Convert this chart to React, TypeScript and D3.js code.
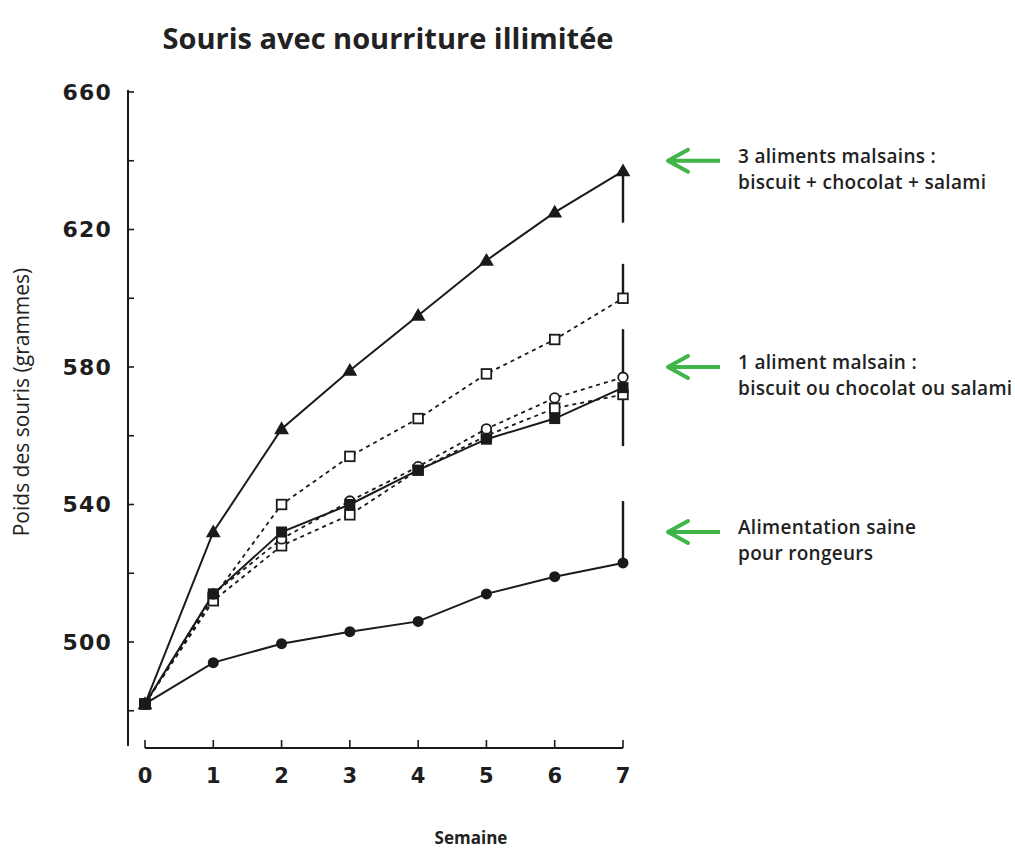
import React from "react";
import * as d3 from "d3";

const weeks = [0, 1, 2, 3, 4, 5, 6, 7];
const troisAliments = [482, 532, 562, 579, 595, 611, 625, 637];
const unAlimentHaut = [482, 513, 540, 554, 565, 578, 588, 600];
const unAlimentPlein = [482, 514, 532, 540, 550, 559, 565, 574];
const unAlimentRond = [482, 514, 530, 541, 551, 562, 571, 577];
const unAlimentBas = [482, 512, 528, 537, 550, 560, 568, 572];
const saine = [482, 494, 499.5, 503, 506, 514, 519, 523];

const errLow = [622, 600, 557, 523];
const errHigh = [637, 610, 591, 541];

const yTicks = [480, 500, 520, 540, 560, 580, 600, 620, 640, 660];
const yLabels = [500, 540, 580, 620, 660];

const annotLines = [
  ["3 aliments malsains :", "biscuit + chocolat + salami"],
  ["1 aliment malsain :", "biscuit ou chocolat ou salami"],
  ["Alimentation saine", "pour rongeurs"],
];
const annotValues = [640, 580, 532];

const title = "Souris avec nourriture illimitée";
const yTitle = "Poids des souris (grammes)";
const xTitle = "Semaine";

type Series = { values: number[]; dashed: boolean; marker: string };
const series: Series[] = [
  { values: saine, dashed: false, marker: "fcircle" },
  { values: troisAliments, dashed: false, marker: "triangle" },
  { values: unAlimentHaut, dashed: true, marker: "osquare" },
  { values: unAlimentBas, dashed: true, marker: "osquare" },
  { values: unAlimentRond, dashed: true, marker: "ocircle" },
  { values: unAlimentPlein, dashed: false, marker: "fsquare" },
];

export default function App() {
  const W = 1015, H = 852;
  const x = d3.scaleLinear().domain([0, 7]).range([145, 623]);
  const y = d3.scaleLinear().domain([480, 660]).range([710.75, 92]);
  const axisX = 128;
  const axisY = 748;
  const green = "#3fb54a";
  const ink = "#1a1a1a";
  const line = (vals: number[]) =>
    d3.line<number>().x((_, i) => x(weeks[i])).y((d) => y(d))(vals) || "";
  const tri = d3.symbol().type(d3.symbolTriangle).size(95)() || "";

  const marker = (m: string, cx: number, cy: number, k: string) => {
    if (m === "fcircle") return <circle key={k} cx={cx} cy={cy} r={5.5} fill={ink} />;
    if (m === "ocircle") return <circle key={k} cx={cx} cy={cy} r={4.8} fill="#fff" stroke={ink} strokeWidth={1.8} />;
    if (m === "fsquare") return <rect key={k} x={cx - 5.5} y={cy - 5.5} width={11} height={11} fill={ink} />;
    if (m === "osquare") return <rect key={k} x={cx - 4.8} y={cy - 4.8} width={9.6} height={9.6} fill="#fff" stroke={ink} strokeWidth={1.8} />;
    return <path key={k} d={tri} transform={`translate(${cx},${cy + 1})`} fill={ink} />;
  };

  return (
    <svg width={W} height={H} style={{ position: "absolute", left: 0, top: 0, background: "#fff" }}
      fontFamily="'Open Sans', sans-serif">
      <rect width={W} height={H} fill="#fff" />
      <text x={388} y={49} textAnchor="middle" fontSize={29} fontWeight={700} fill="#222">{title}</text>

      {/* y axis */}
      <line x1={axisX} x2={axisX} y1={y(660) - 2} y2={746} stroke={ink} strokeWidth={2} />
      {yTicks.map((t) => (
        <line key={t} x1={axisX} x2={axisX + 6} y1={y(t)} y2={y(t)} stroke={ink} strokeWidth={1.6} />
      ))}
      {yLabels.map((t) => (
        <text key={t} x={112} y={y(t)} dy="0.36em" textAnchor="end" fontFamily="'DejaVu Sans', sans-serif"
          fontWeight={700} fontSize={22} letterSpacing={1.2} fill="#1e1e1e">{t}</text>
      ))}
      <text transform={`translate(29,${402}) rotate(-90)`} textAnchor="middle" fontSize={21} fill="#222">{yTitle}</text>

      {/* x axis */}
      <line x1={x(0)} x2={x(7)} y1={axisY} y2={axisY} stroke={ink} strokeWidth={2} />
      {weeks.map((w) => (
        <g key={w}>
          <line x1={x(w)} x2={x(w)} y1={axisY} y2={axisY - 8} stroke={ink} strokeWidth={1.6} />
          <text x={x(w)} y={783} textAnchor="middle" fontFamily="'DejaVu Sans', sans-serif" fontWeight={700}
            fontSize={21} fill="#1e1e1e">{w}</text>
        </g>
      ))}
      <text x={471} y={844} textAnchor="middle" fontSize={17} fontWeight={700} fill="#222">{xTitle}</text>

      {/* error bars */}
      {errLow.map((lo, i) => (
        <line key={i} x1={x(7)} x2={x(7)} y1={y(lo)} y2={y(errHigh[i])} stroke={ink} strokeWidth={2.4} />
      ))}

      {/* lines */}
      {series.map((s, i) => (
        <path key={i} d={line(s.values)} fill="none" stroke={ink} strokeWidth={s.dashed ? 1.8 : 2}
          strokeDasharray={s.dashed ? "4,4" : undefined} />
      ))}
      {series.map((s, i) => s.values.map((v, j) => marker(s.marker, x(weeks[j]), y(v), `${i}-${j}`)))}

      {/* annotations */}
      {annotValues.map((v, i) => {
        const ay = y(v);
        return (
          <g key={i}>
            <line x1={668} x2={720} y1={ay} y2={ay} stroke={green} strokeWidth={4} />
            <path d={`M${688},${ay - 11} L${668},${ay} L${688},${ay + 11}`} fill="none" stroke={green}
              strokeWidth={4} strokeLinejoin="round" strokeLinecap="round" />
            <text x={738} y={ay + 2} fontSize={19} fontWeight={600} letterSpacing={0.3} fill="#222">{annotLines[i][0]}</text>
            <text x={738} y={ay + 28} fontSize={19} fontWeight={600} letterSpacing={0.3} fill="#222">{annotLines[i][1]}</text>
          </g>
        );
      })}
    </svg>
  );
}
